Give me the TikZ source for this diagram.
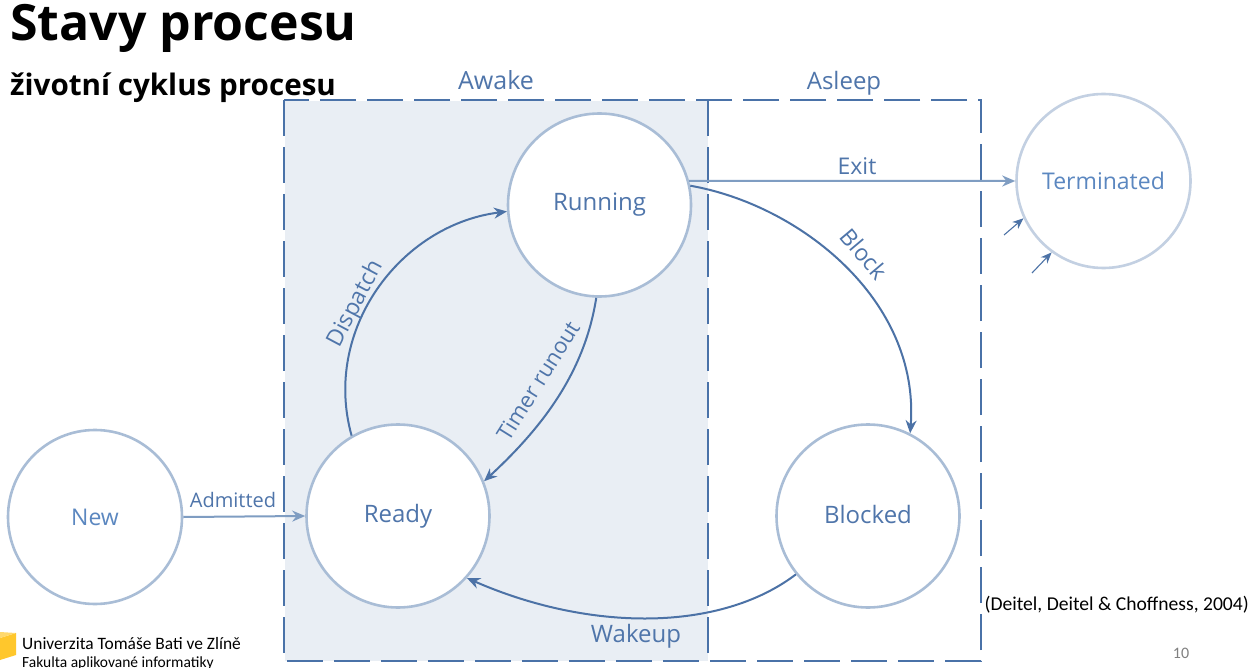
\documentclass[tikz,border=0pt]{standalone}
\usepackage{fontspec}
\setmainfont{Open Sans}
\newfontfamily\labelfont{Open Sans}
\newfontfamily\citefont{Carlito}
\usetikzlibrary{arrows.meta}
\definecolor{frameblue}{HTML}{4A72A8}
\definecolor{textblue}{HTML}{4F75AA}
\definecolor{lightblue}{HTML}{5B87C0}
\definecolor{ringblue}{HTML}{A9BDD6}
\definecolor{ringpale}{HTML}{C3D0E2}
\definecolor{awakefill}{HTML}{E9EEF4}
\definecolor{arrowblue}{HTML}{4C72A6}
\definecolor{exitblue}{HTML}{7F9DC2}
\definecolor{logoyellow}{HTML}{FFC72C}
\tikzset{
  statebox/.style={circle,draw=ringblue,line width=2.6pt,fill=white,minimum size=183pt,inner sep=0pt,text=textblue,font=\labelfont\fontsize{24}{27}\selectfont},
  outerstate/.style={statebox,minimum size=174pt,font=\labelfont\fontsize{23}{26}\selectfont},
  flowarrow/.style={draw=arrowblue,line width=2pt,-{Stealth[length=13pt,width=11pt]}},
  thinarrow/.style={draw=arrowblue,line width=1.1pt,-{Stealth[length=11pt,width=9pt]}},
  edgelabel/.style={text=textblue,font=\labelfont\fontsize{23}{26}\selectfont,inner sep=0pt},
  framebox/.style={draw=frameblue,line width=2pt,dash pattern=on 36pt off 11pt},
  titletext/.style={anchor=west,inner sep=0pt,text=black}
}
\begin{document}
\begin{tikzpicture}[x=1pt,y=-1pt]
\clip (0,0) rectangle (1252,668);
\useasboundingbox (0,0) rectangle (1252,668);
\fill[white] (0,0) rectangle (1252,668);
\fill[awakefill] (285,101) rectangle (708,661);
\draw[framebox] (284,100) rectangle (981,661);
\draw[framebox] (708,100) -- (708,661);
\node[titletext,font=\bfseries\fontsize{50}{56}\selectfont] (title) at (10,28) {Stavy procesu};
\node[titletext,font=\bfseries\fontsize{29.6}{34}\selectfont] (subtitle) at (10,88) {životní cyklus procesu};
\node[edgelabel,font=\labelfont\fontsize{25}{28}\selectfont] (awake) at (496,80) {Awake};
\node[edgelabel,font=\labelfont\fontsize{24}{27}\selectfont] (asleep) at (844,83) {Asleep};
\node[statebox] (running) at (599.5,205) {\raisebox{-2pt}{Running}};
\node[statebox] (ready) at (398,516) {Ready};
\node[statebox] (blocked) at (868,516) {\raisebox{3pt}{Blocked}};
\node[outerstate,text=lightblue] (new) at (95,517) {\raisebox{-2pt}{New}};
\node[outerstate,draw=ringpale,text=lightblue] (terminated) at (1103.5,181) {\raisebox{-5pt}{Terminated}};
\draw[flowarrow,draw=exitblue] (running.15) -- (terminated.west);
\draw[flowarrow,draw=exitblue] (new.east) -- (ready.west);
\draw[flowarrow] (running.12) .. controls (800,205) and (920,300) .. (blocked.63);
\draw[flowarrow] (ready.120) .. controls (322,330) and (400,225) .. (running.184);
\draw[flowarrow] (running.-92) .. controls (585,370) and (545,425) .. (ready.22);
\draw[flowarrow] (blocked.-141) .. controls (720,632) and (590,632) .. (ready.-42);
\coordinate (stubA) at (1004,235);
\coordinate (stubB) at (1032,273);
\draw[thinarrow] (stubA) -- (terminated.-155);
\draw[thinarrow] (stubB) -- (terminated.-126);
\node[edgelabel] (exit) at (857,166) {Exit};
\node[edgelabel,rotate=-50] (block) at (864,254) {Block};
\node[edgelabel,rotate=62] (dispatch) at (356,304) {Dispatch};
\node[edgelabel,rotate=58,font=\labelfont\fontsize{22}{25}\selectfont] (timer) at (538,381) {Timer runout};
\node[edgelabel,font=\labelfont\fontsize{20}{24}\selectfont] (admitted) at (233,500) {Admitted};
\node[edgelabel,font=\labelfont\fontsize{24}{27}\selectfont] (wakeup) at (636,636) {Wakeup};
\node[anchor=east,inner sep=0pt,font=\citefont\fontsize{19.6}{22}\selectfont] (cite) at (1249,605) {(Deitel, Deitel \& Choffness, 2004)};
\node[inner sep=0pt,text=gray,font=\citefont\fontsize{16}{18}\selectfont] (page) at (1181,653) {10};
\fill[logoyellow] (0,638) -- (16,633) -- (16,655) -- (0,660) -- cycle;
\fill[logoyellow!70!white] (0,632) -- (16,633) -- (0,638) -- cycle;
\node[anchor=west,inner sep=0pt,font=\citefont\fontsize{17.4}{22}\selectfont] (logo1) at (22,644) {Univerzita Tomáše Bati ve Zlíně};
\node[anchor=west,inner sep=0pt,font=\citefont\fontsize{15.5}{20}\selectfont] (logo2) at (22,663) {Fakulta aplikované informatiky};
\end{tikzpicture}
\end{document}
